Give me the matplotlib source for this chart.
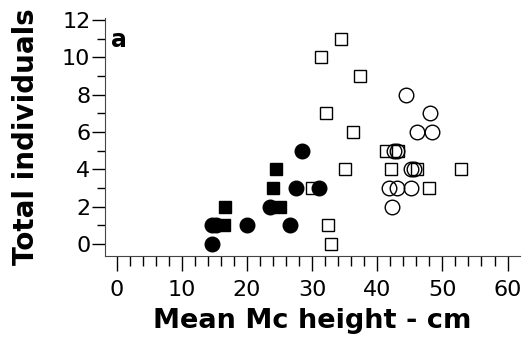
import matplotlib
matplotlib.use("Agg")
import matplotlib.pyplot as plt
from matplotlib.ticker import MultipleLocator

# filled circles
fc_x = [14.7, 14.7, 15.3, 20.0, 26.6, 23.5, 27.5, 28.4, 31.1]
fc_y = [0, 1, 1, 1, 1, 2, 3, 5, 3]
# filled squares
fs_x = [16.5, 16.7, 24.0, 24.5, 25.1]
fs_y = [1, 2, 3, 4, 2]
# open squares
os_x = [34.4, 31.4, 37.4, 32.1, 36.3, 41.3, 43.2, 35.1, 42.1, 46.1, 52.8, 30.0, 47.9, 32.5, 32.9]
os_y = [11, 10, 9, 7, 6, 5, 5, 4, 4, 4, 4, 3, 3, 1, 0]
# open circles
oc_x = [44.4, 48.1, 46.1, 48.4, 42.6, 43.1, 45.2, 45.6, 41.8, 43.0, 45.2, 42.3]
oc_y = [8, 7, 6, 6, 5, 5, 4, 4, 3, 3, 3, 2]

plt.rcParams['font.family'] = 'DejaVu Sans'

fig = plt.figure(figsize=(5.22, 3.47), dpi=100)
ax = fig.add_axes([0.201, 0.262, 0.795, 0.686])

ax.plot(os_x, os_y, 's', ms=9, mfc='white', mec='black', mew=1.0, ls='none')
ax.plot(oc_x, oc_y, 'o', ms=10.5, mfc='none', mec='black', mew=1.0, ls='none')
ax.plot(fs_x, fs_y, 's', ms=9, color='black', ls='none')
ax.plot(fc_x, fc_y, 'o', ms=10.5, color='black', ls='none')

ax.set_xlim(-1.8, 61.9)
ax.set_ylim(-0.64, 12.1)
ax.spines['top'].set_visible(False)
ax.spines['right'].set_visible(False)
for s in ['left', 'bottom']:
    ax.spines[s].set_color('#444444')

ax.xaxis.set_major_locator(MultipleLocator(10))
ax.xaxis.set_minor_locator(MultipleLocator(2))
ax.yaxis.set_major_locator(MultipleLocator(2))
ax.yaxis.set_minor_locator(MultipleLocator(1))
ax.tick_params(axis='x', which='major', length=11, width=1, labelsize=16, pad=6)
ax.tick_params(axis='x', which='minor', length=7, width=1)
ax.tick_params(axis='y', which='major', length=9.5, width=1, labelsize=16, pad=1)
ax.tick_params(axis='y', which='minor', length=6, width=1)

ax.set_xlabel("Mean Mc height - cm", fontsize=19.5, fontweight='bold', labelpad=6)
ax.set_ylabel("Total individuals", fontsize=20, fontweight='bold', labelpad=16)
ax.text(0.015, 0.96, "a", transform=ax.transAxes, fontsize=17, fontweight='bold', va='top')

fig.savefig("out.png", dpi=100)
